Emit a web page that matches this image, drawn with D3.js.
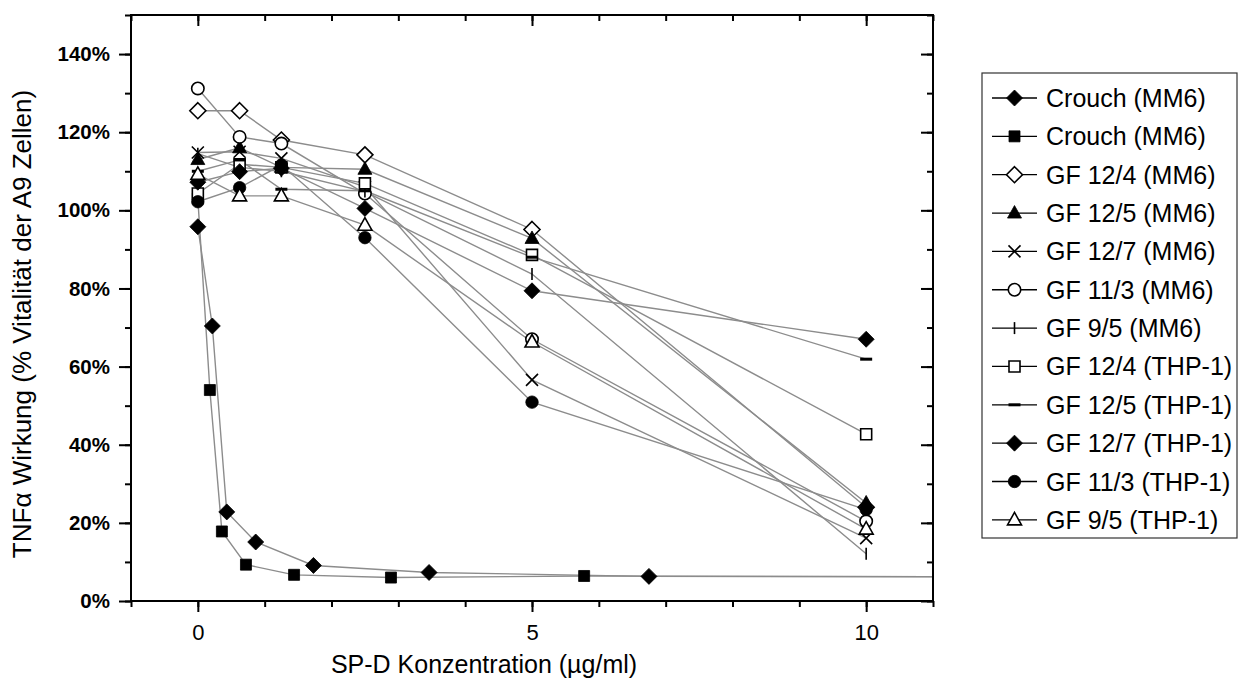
<!DOCTYPE html>
<html><head><meta charset="utf-8">
<script src="https://cdn.jsdelivr.net/npm/d3@7"></script>
<style>body{margin:0;background:#fff}</style>
</head><body><svg id="c" width="1242" height="680"></svg>
<script>
// ---- data ----
const concentrations = [0, 0.625, 1.25, 2.5, 5, 10];
const gf124MM6 = [125.5, 125.5, 118.0, 114.2, 95.1, 24.0];
const gf125MM6 = [113.0, 116.0, 111.0, 110.5, 92.8, 25.1];
const gf127MM6 = [114.8, 115.0, 113.3, 106.0, 56.6, 16.1];
const gf113MM6 = [131.2, 118.8, 117.1, 104.3, 67.0, 20.4];
const gf95MM6  = [114.5, 111.0, 110.0, 104.8, 83.7, 12.1];
const gf124THP = [104.3, 111.8, 111.0, 106.9, 88.6, 42.7];
const gf125THP = [110.0, 112.9, 105.4, 105.0, 88.0, 61.9];
const gf127THP = [107.2, 109.9, 110.8, 100.5, 79.4, 67.0];
const gf113THP = [102.2, 105.8, 111.6, 93.0, 50.9, 23.4];
const gf95THP  = [109.2, 103.7, 103.7, 96.2, 66.3, 18.4];
const crouchDiamondX = [0, 0.217, 0.433, 0.866, 1.73, 3.46, 6.75, 13.9];
const crouchDiamondY = [95.8, 70.4, 22.8, 15.1, 9.1, 7.3, 6.3, 6.2];
const crouchSquareX = [0, 0.18, 0.36, 0.72, 1.44, 2.89, 5.78, 11.56];
const crouchSquareY = [103.0, 54.0, 17.8, 9.3, 6.7, 6.0, 6.4, 6.2];
const seriesNames = ["Crouch (MM6)", "Crouch (MM6)", "GF 12/4 (MM6)", "GF 12/5 (MM6)", "GF 12/7 (MM6)",
  "GF 11/3 (MM6)", "GF 9/5 (MM6)", "GF 12/4 (THP-1)", "GF 12/5 (THP-1)", "GF 12/7 (THP-1)",
  "GF 11/3 (THP-1)", "GF 9/5 (THP-1)"];
const seriesMarkers = ["diamondF", "squareF", "diamondO", "triangleF", "cross", "circleO", "vbar",
  "squareO", "hbar", "diamondF", "circleF", "triangleO"];
const yMajorTicks = [0, 20, 40, 60, 80, 100, 120, 140];
const xMajorTicks = [0, 5, 10];

// ---- build series ----
const gfValues = [gf124MM6, gf125MM6, gf127MM6, gf113MM6, gf95MM6, gf124THP, gf125THP, gf127THP, gf113THP, gf95THP];
const series = [
  {name: seriesNames[0], marker: seriesMarkers[0], pts: crouchDiamondX.map((x, i) => [x, crouchDiamondY[i]])},
  {name: seriesNames[1], marker: seriesMarkers[1], pts: crouchSquareX.map((x, i) => [x, crouchSquareY[i]])}
];
gfValues.forEach((vals, k) => series.push({name: seriesNames[k + 2], marker: seriesMarkers[k + 2],
  pts: concentrations.map((x, i) => [x, vals[i]])}));

const svg = d3.select("#c");
const L = 131, R = 933, T = 15, B = 601;
const x = d3.scaleLinear().domain([-1, 11]).range([L, R]);
const y = d3.scaleLinear().domain([0, 150]).range([B, T]);
const FONT = "'Liberation Sans', Arial, Helvetica, sans-serif";

svg.append("defs").append("clipPath").attr("id", "clip")
  .append("rect").attr("x", L).attr("y", T).attr("width", R - L).attr("height", B - T);

// markers
function markerPath(type) {
  const p = d3.path();
  if (type.startsWith("diamond")) { const s = 8; p.moveTo(0, -s); p.lineTo(s, 0); p.lineTo(0, s); p.lineTo(-s, 0); p.closePath(); }
  else if (type.startsWith("square")) { const s = 5.5; p.rect(-s, -s, 2 * s, 2 * s); }
  else if (type.startsWith("circle")) { p.arc(0, 0, 6.2, 0, 2 * Math.PI); p.closePath(); }
  else if (type.startsWith("triangle")) { p.moveTo(0, -7.5); p.lineTo(7, 5); p.lineTo(-7, 5); p.closePath(); }
  else if (type === "cross") { p.moveTo(-6, -6); p.lineTo(6, 6); p.moveTo(6, -6); p.lineTo(-6, 6); }
  else if (type === "vbar") { p.moveTo(0, -6); p.lineTo(0, 6); }
  else if (type === "hbar") { p.moveTo(-6, 0); p.lineTo(6, 0); }
  return p.toString();
}
function styleMarker(sel, type) {
  const filled = type.endsWith("F");
  const open = type.endsWith("O");
  sel.attr("d", markerPath(type))
    .attr("fill", filled ? "#000" : (open ? "#fff" : "none"))
    .attr("stroke", "#000")
    .attr("stroke-width", type === "hbar" ? 3 : (filled ? 0.8 : 1.6));
}

// lines
const line = d3.line().x(d => x(d[0])).y(d => y(d[1]));
const lg = svg.append("g").attr("clip-path", "url(#clip)");
series.forEach(s => lg.append("path").attr("d", line(s.pts)).attr("fill", "none")
  .attr("stroke", "#8c8c8c").attr("stroke-width", 1.4));

// points
const mg = svg.append("g").attr("clip-path", "url(#clip)");
series.forEach(s => {
  mg.selectAll(null).data(s.pts).enter().append("path")
    .attr("transform", d => `translate(${x(d[0])},${y(d[1])})`)
    .call(styleMarker, s.marker);
});

// axes
function tidy(g) { g.select(".domain").remove(); g.selectAll("line").attr("stroke", "#000").attr("stroke-width", 2); }
const xMinor = d3.range(-1, 12);
const yMinor = d3.range(0, 151, 10);
svg.append("g").attr("transform", `translate(0,${B})`)
  .call(d3.axisBottom(x).tickValues(xMinor).tickSize(6).tickFormat("")).call(tidy);
svg.append("g").attr("transform", `translate(0,${B})`)
  .call(d3.axisBottom(x).tickValues(xMajorTicks).tickSize(11).tickPadding(12).tickFormat(d3.format("d"))).call(tidy)
  .selectAll("text").attr("font-family", FONT).attr("font-size", 22).attr("fill", "#000");
svg.append("g").attr("transform", `translate(0,${T})`)
  .call(d3.axisBottom(x).tickValues(xMinor).tickSize(6).tickFormat("")).call(tidy);
svg.append("g").attr("transform", `translate(0,${T})`)
  .call(d3.axisBottom(x).tickValues(xMajorTicks).tickSize(11).tickFormat("")).call(tidy);
svg.append("g").attr("transform", `translate(${L},0)`)
  .call(d3.axisLeft(y).tickValues(yMinor).tickSize(6).tickFormat("")).call(tidy);
svg.append("g").attr("transform", `translate(${L},0)`)
  .call(d3.axisLeft(y).tickValues(yMajorTicks).tickSize(12).tickPadding(9).tickFormat(d => d + "%")).call(tidy)
  .selectAll("text").attr("font-family", FONT).attr("font-size", 20.5).attr("font-weight", "bold").attr("fill", "#000");
svg.append("g").attr("transform", `translate(${R},0)`)
  .call(d3.axisLeft(y).tickValues(yMinor).tickSize(6).tickFormat("")).call(tidy);
svg.append("g").attr("transform", `translate(${R},0)`)
  .call(d3.axisLeft(y).tickValues(yMajorTicks).tickSize(12).tickFormat("")).call(tidy);
svg.append("rect").attr("x", L).attr("y", T).attr("width", R - L).attr("height", B - T)
  .attr("fill", "none").attr("stroke", "#000").attr("stroke-width", 2);

// titles
svg.append("text").attr("x", 484).attr("y", 673).attr("text-anchor", "middle")
  .attr("font-family", FONT).attr("font-size", 25).text("SP-D Konzentration (µg/ml)");
svg.append("text").attr("transform", "translate(31,324) rotate(-90)").attr("text-anchor", "middle")
  .attr("font-family", FONT).attr("font-size", 26).text("TNFα Wirkung (% Vitalität der A9 Zellen)");

// legend
const leg = svg.append("g");
leg.append("rect").attr("x", 982).attr("y", 73).attr("width", 255).attr("height", 465)
  .attr("fill", "#fff").attr("stroke", "#333").attr("stroke-width", 1.2);
series.forEach((s, i) => {
  const yy = 98 + i * 38.35;
  leg.append("line").attr("x1", 992).attr("x2", 1037).attr("y1", yy).attr("y2", yy)
    .attr("stroke", "#000").attr("stroke-width", 1.3);
  leg.append("path").attr("transform", `translate(1014.5,${yy})`).call(styleMarker, s.marker);
  leg.append("text").attr("x", 1046).attr("y", yy).attr("dy", "0.36em")
    .attr("font-family", FONT).attr("font-size", 25).text(s.name);
});
</script></body></html>
